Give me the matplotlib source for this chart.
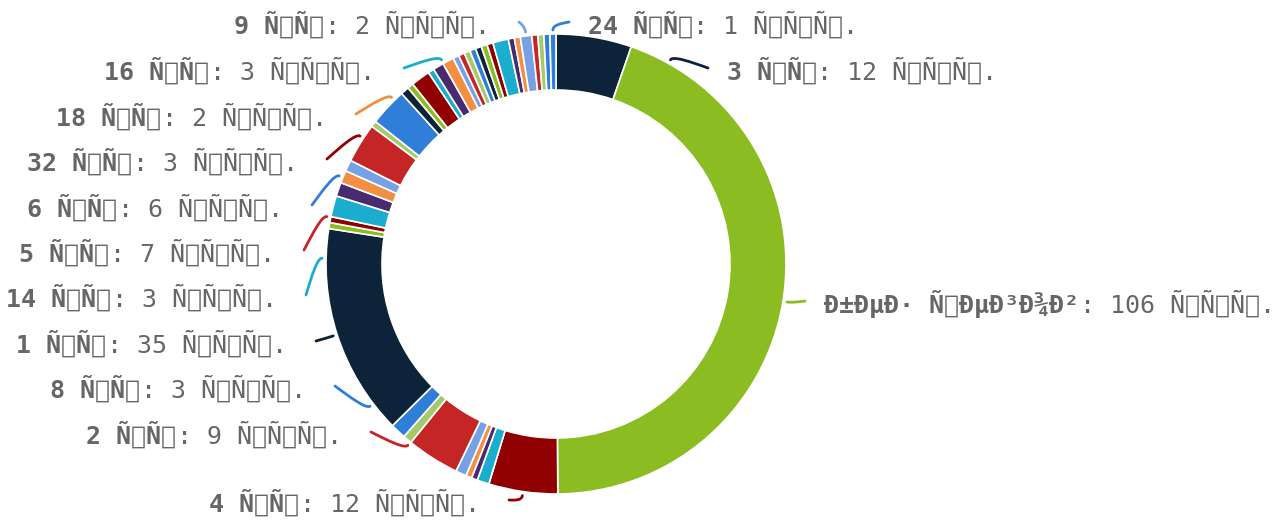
import numpy as np
import matplotlib.pyplot as plt
from matplotlib.path import Path
from matplotlib.patches import PathPatch


def moji(s):
    # utf-8 text read back as latin-1, as in the source chart
    return s.encode('utf-8').decode('latin-1')


values = [12.6, 105.8, 11.5, 2.0, 1.0, 1.0, 1.8, 8.8, 1.5, 2.6,
          35.3, 1.0, 1.0, 3.5, 2.3, 2.1, 1.9, 6.6, 1.0, 6.3,
          1.4, 1.0, 3.2, 1.0, 1.8, 1.9, 1.0, 1.0, 1.0, 1.0,
          1.0, 1.0, 1.0, 2.6, 1.0, 1.0, 1.9, 1.0, 1.0, 1.0, 1.0]
palette = ['#2f7ed8', '#0d233a', '#8bbc21', '#910000', '#1aadce',
           '#492970', '#f28f43', '#77a1e5', '#c42525', '#a6c96a']
colors = [palette[(i + 1) % 10] for i in range(len(values))]
colors[-1] = '#2f7ed8'

label_idx = [0, 1, 2, 7, 9, 10, 13, 17, 19, 22, 25, 33, 36, 40]
label_names = ['3 шт', 'без тегов', '4 шт', '2 шт', '8 шт', '1 шт', '14 шт',
               '5 шт', '6 шт', '32 шт', '18 шт', '16 шт', '9 шт', '24 шт']
label_vals = ['12', '106', '12', '9', '3', '35', '3', '7', '6', '3', '2', '3', '2', '1']

# label anchors in pixels (x edge, y from top, side)
label_pos = [(727, 71, 'r'), (824, 304, 'r'), (480, 503, 'l'), (342, 435, 'l'),
             (306, 389, 'l'), (287, 344, 'l'), (277, 298, 'l'), (275, 253, 'l'),
             (283, 208, 'l'), (298, 162, 'l'), (327, 117, 'l'), (375, 71, 'l'),
             (490, 25, 'l'), (588, 25, 'r')]

W, H = 1282, 520
cx, cy = 556, H - 264
R = 230

fig = plt.figure(figsize=(W / 100, H / 100), dpi=100)
ax = fig.add_axes([0, 0, 1, 1])
ax.pie(values, colors=colors, startangle=90, counterclock=False,
       center=(cx, cy), radius=R,
       wedgeprops=dict(width=56, edgecolor='white', linewidth=1.2))
ax.set_xlim(0, W)
ax.set_ylim(0, H)
ax.set_aspect('equal')
ax.axis('off')

# mid angle of each slice, clockwise from top
cum = np.cumsum([0] + values)
mids = (cum[:-1] + cum[1:]) / 2 / cum[-1] * 360

fs = 18
charw = 0.6021 * fs * 100 / 72
tcol = '#666666'
font = 'DejaVu Sans Mono'

for i, name, val, (lx, ly, side) in zip(label_idx, label_names, label_vals, label_pos):
    y = H - ly
    bold = moji(name)
    rest = moji(': ' + val + ' тыс.')
    if side == 'l':
        ax.text(lx, y, rest, ha='right', va='center', fontsize=fs, color=tcol, family=font)
        ax.text(lx - len(rest) * charw, y, bold, ha='right', va='center', fontsize=fs,
                color=tcol, family=font, fontweight='bold')
        sx = lx + 29
    else:
        ax.text(lx, y, bold, ha='left', va='center', fontsize=fs, color=tcol,
                family=font, fontweight='bold')
        ax.text(lx + len(bold) * charw, y, rest, ha='left', va='center', fontsize=fs,
                color=tcol, family=font)
        sx = lx - 19
    sy = y + 3
    # connector stub: from label toward the slice, stopping just outside the ring
    a_lab = np.degrees(np.arctan2(sx - cx, sy - cy)) % 360
    a_sl = mids[i]
    d = (a_sl - a_lab + 180) % 360 - 180
    a_end = np.radians(a_lab + np.clip(d, -8.5, 8.5))
    rr = 234
    ex, ey = cx + rr * np.sin(a_end), cy + rr * np.cos(a_end)
    ox, oy = cx + (rr + 5) * np.sin(a_end), cy + (rr + 5) * np.cos(a_end)
    path = Path([(sx, sy), ((sx + ox) / 2, (sy + oy) / 2), (ox, oy), (ex, ey)],
                [Path.MOVETO, Path.CURVE4, Path.CURVE4, Path.CURVE4])
    ax.add_patch(PathPatch(path, fc='none', ec=colors[i], lw=2, capstyle='round'))

fig.savefig('out.png', dpi=100)
